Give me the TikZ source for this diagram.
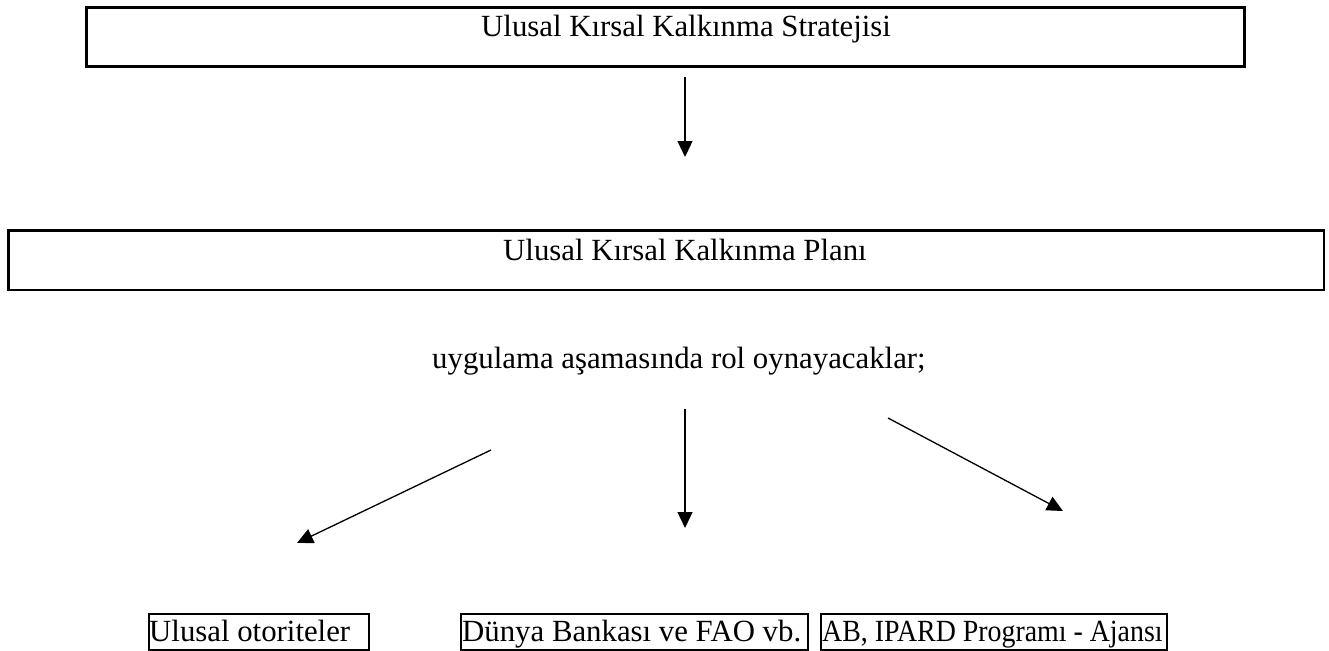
\documentclass[tikz,border=0pt]{standalone}
\usepackage{fontspec}
\usepackage{graphicx}
\setmainfont{Liberation Serif}
\usetikzlibrary{arrows.meta}
\begin{document}
\begin{tikzpicture}[x=1pt,y=-1pt,
  bigbox/.style={draw, line width=2.6pt, inner sep=0pt, anchor=north west},
  smallbox/.style={draw, line width=2pt, inner sep=0pt, anchor=north west},
  lbl/.style={inner sep=0pt, anchor=base west, font=\fontsize{30.8}{36}\selectfont},
  arr/.style={line width=1.3pt, -{Triangle[length=16pt,width=15pt]}}]
\useasboundingbox (0,0) rectangle (1329,650);
% boxes
\node[bigbox, minimum width=1157.7pt, minimum height=59.5pt] (strat) at (85.3,6) {};
\node[bigbox, minimum width=1315.8pt, minimum height=59.2pt] (plan) at (7,229.3) {};
\node[smallbox, minimum width=220.3pt, minimum height=36pt] (ulusal) at (147.7,612.6) {};
\node[smallbox, minimum width=346.9pt, minimum height=36pt] (dunya) at (460.3,612.6) {};
\node[smallbox, minimum width=346.5pt, minimum height=36pt] (ab) at (819.7,612.6) {};
% texts
\node[lbl] (tstrat) at (481,37) {Ulusal Kırsal Kalkınma Stratejisi};
\node[lbl] (tplan) at (503,260) {Ulusal Kırsal Kalkınma Planı};
\node[lbl] (tuyg) at (432,368) {uygulama aşamasında rol oynayacaklar;};
\node[lbl] (tulusal) at (149,641) {Ulusal otoriteler};
\node[lbl] (tdunya) at (462,641) {Dünya Bankası ve FAO vb.};
\node[lbl] (tab) at (822,641) {\scalebox{0.905}[1]{AB, IPARD Programı - Ajansı}};
% arrow end points
\coordinate (a1s) at (685,77);   \coordinate (a1e) at (685,157);
\coordinate (a2s) at (491,450);  \coordinate (a2e) at (297,543);
\coordinate (a3s) at (685,409);  \coordinate (a3e) at (685,528);
\coordinate (a4s) at (888,418);  \coordinate (a4e) at (1063,511);
\draw[arr] (a1s) -- (a1e);
\draw[arr] (a2s) -- (a2e);
\draw[arr] (a3s) -- (a3e);
\draw[arr] (a4s) -- (a4e);
\end{tikzpicture}
\end{document}
